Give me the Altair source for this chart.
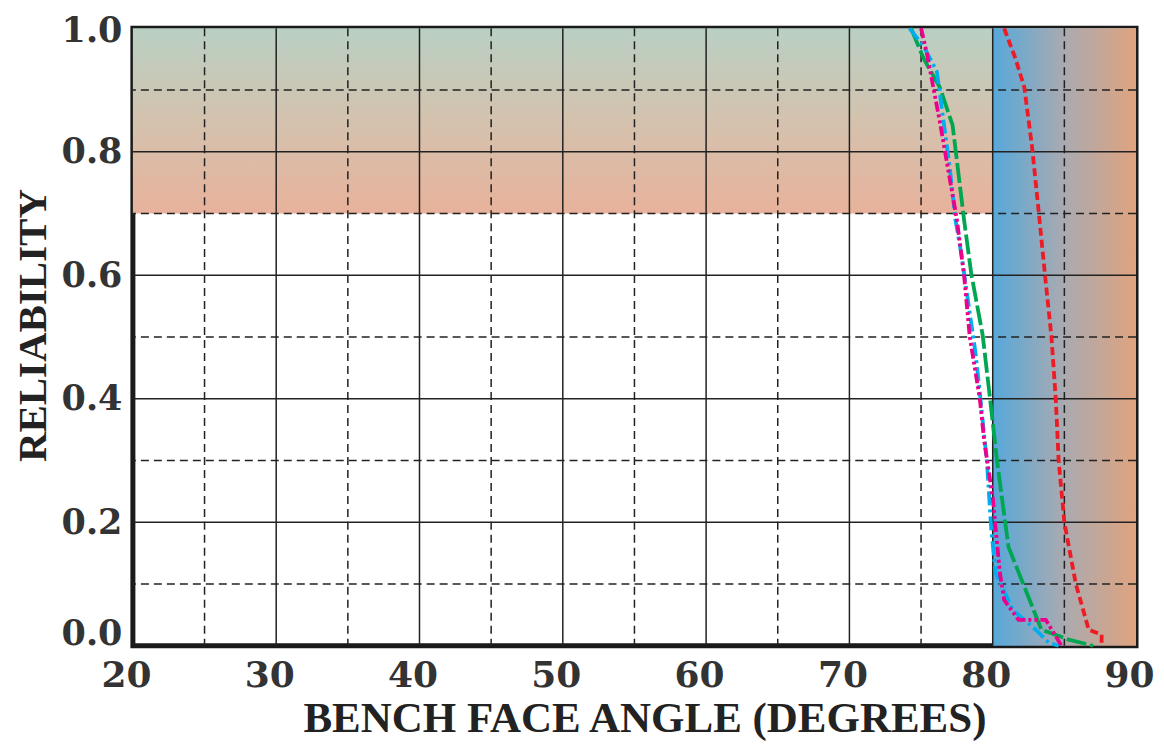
import altair as alt
import pandas as pd

# ---- data ----
cyan_x = [74.2, 75.2, 76.1, 77.0, 77.4, 77.8, 78.8, 79.1, 79.6, 79.9, 80.2, 81.4, 83.0, 83.9, 84.6]
cyan_y = [1.0, 0.97, 0.93, 0.775, 0.69, 0.636, 0.474, 0.41, 0.296, 0.188, 0.118, 0.058, 0.026, 0.005, 0.0]

magenta_x = [75.0, 75.4, 76.3, 77.5, 78.0, 78.4, 79.1, 79.4, 80.0, 80.5, 80.8, 81.8, 83.7, 84.8]
magenta_y = [1.0, 0.96, 0.85, 0.69, 0.6, 0.5, 0.4, 0.333, 0.24, 0.118, 0.074, 0.042, 0.042, 0.0]

green_x = [74.3, 75.2, 76.3, 77.2, 78.0, 78.5, 79.3, 79.8, 80.3, 81.1, 83.4, 85.3, 87.0]
green_y = [1.0, 0.95, 0.905, 0.843, 0.69, 0.603, 0.503, 0.403, 0.30, 0.16, 0.026, 0.01, 0.0]

red_x = [80.8, 81.6, 82.2, 82.75, 83.2, 83.65, 84.1, 84.4, 84.6, 85.0, 85.8, 86.7, 87.6, 87.6]
red_y = [1.0, 0.95, 0.905, 0.807, 0.705, 0.6, 0.5, 0.4, 0.3, 0.2, 0.1, 0.026, 0.018, 0.0]

x_ticks = [20, 30, 40, 50, 60, 70, 80, 90]
y_ticks = [0.0, 0.2, 0.4, 0.6, 0.8, 1.0]
major_x = [30, 40, 50, 60, 70, 80]
minor_x = [25, 35, 45, 55, 65, 75, 85]
major_y = [0.2, 0.4, 0.6, 0.8]
minor_y = [0.1, 0.3, 0.5, 0.7, 0.9]

band_top = {"x": [20], "x2": [90], "y": [0.7], "y2": [1.0]}
band_right = {"x": [80], "x2": [90], "y": [0.0], "y2": [1.0]}

SERIF = "Liberation Serif"
WIDE = "DejaVu Serif"
X = alt.Scale(domain=[20, 90], nice=False, zero=False)
Y = alt.Scale(domain=[0, 1], nice=False, zero=False)

xaxis = alt.Axis(values=x_ticks, title="BENCH FACE ANGLE (DEGREES)", grid=False, ticks=False,
                 domain=False, labelFlush=False, labelAlign="center", labelOffset=-7,
                 labelBaseline="alphabetic", labelPadding=41,
                 labelFont=WIDE, labelFontWeight="bold", labelFontSize=36,
                 labelColor="#333333", titleFont=SERIF, titleFontWeight="bold",
                 titleFontSize=43, titleColor="#222222", titleBaseline="alphabetic",
                 titleAnchor="middle", titleX=512, titleY=86)
yaxis = alt.Axis(values=y_ticks, format=".1f", title="RELIABILITY", grid=False, ticks=False,
                 domain=False, labelFlush=False, labelBaseline="middle",
                 labelOffset=alt.expr("datum.value == 0 ? -12 : (datum.value == 1 ? 2 : 0)"),
                 labelFont=WIDE, labelFontWeight="bold", labelFontSize=35,
                 labelColor="#333333", labelPadding=11, titleFont=SERIF, titleFontWeight="bold",
                 titleFontSize=41, titleColor="#222222", titleBaseline="alphabetic",
                 titleAngle=270, titleAnchor="middle", titleX=-87, titleY=297)

top_grad = alt.LinearGradient(gradient="linear", x1=0, x2=0, y1=0, y2=1, stops=[
    alt.GradientStop(color="#b9d0c3", offset=0),
    alt.GradientStop(color="#d4c2ae", offset=0.5),
    alt.GradientStop(color="#e8b29b", offset=1)])
right_grad = alt.LinearGradient(gradient="linear", x1=0, x2=1, y1=0, y2=0, stops=[
    alt.GradientStop(color="#56a8db", offset=0),
    alt.GradientStop(color="#aaaab0", offset=0.5),
    alt.GradientStop(color="#dfa37f", offset=1)])

bg1 = alt.Chart(pd.DataFrame(band_top)).mark_rect(color=top_grad).encode(
    x=alt.X("x:Q", scale=X, axis=xaxis), x2="x2:Q",
    y=alt.Y("y:Q", scale=Y, axis=yaxis), y2="y2:Q")
bg2 = alt.Chart(pd.DataFrame(band_right)).mark_rect(color=right_grad).encode(
    x=alt.X("x:Q", scale=X), x2="x2:Q", y=alt.Y("y:Q", scale=Y), y2="y2:Q")

gx_major = alt.Chart(pd.DataFrame({"v": major_x})).mark_rule(color="#222222", strokeWidth=1.5).encode(
    x=alt.X("v:Q", scale=X))
gx_minor = alt.Chart(pd.DataFrame({"v": minor_x})).mark_rule(color="#222222", strokeWidth=1.5,
                                                            strokeDash=[8, 5]).encode(x=alt.X("v:Q", scale=X))
gy_major = alt.Chart(pd.DataFrame({"v": major_y})).mark_rule(color="#222222", strokeWidth=1.5).encode(
    y=alt.Y("v:Q", scale=Y))
gy_minor = alt.Chart(pd.DataFrame({"v": minor_y})).mark_rule(color="#222222", strokeWidth=1.5,
                                                            strokeDash=[8, 5]).encode(y=alt.Y("v:Q", scale=Y))


def curve(xs, ys, color, dash):
    df = pd.DataFrame({"a": xs, "r": ys, "i": list(range(len(xs)))})
    return alt.Chart(df).mark_line(color=color, strokeWidth=3.8, strokeDash=dash, strokeCap="butt").encode(
        x=alt.X("a:Q", scale=X), y=alt.Y("r:Q", scale=Y), order="i:Q")


lines = [
    curve(green_x, green_y, "#00a651", [20, 4]),
    curve(cyan_x, cyan_y, "#00aeef", [14, 4, 3, 4]),
    curve(magenta_x, magenta_y, "#ec008c", [10, 3, 3, 3, 3, 3]),
    curve(red_x, red_y, "#ed1c24", [8, 4]),
]

chart = alt.layer(bg1, bg2, gx_minor, gy_minor, gx_major, gy_major, *lines).properties(
    width=1004, height=618,
    autosize=alt.AutoSizeParams(type="none"),
    padding={"left": 125, "top": 20, "right": 20, "bottom": 100},
).configure_view(stroke="#1a1a1a", strokeWidth=5)

chart.save("out.html", embed_options={"renderer": "svg", "actions": False})
